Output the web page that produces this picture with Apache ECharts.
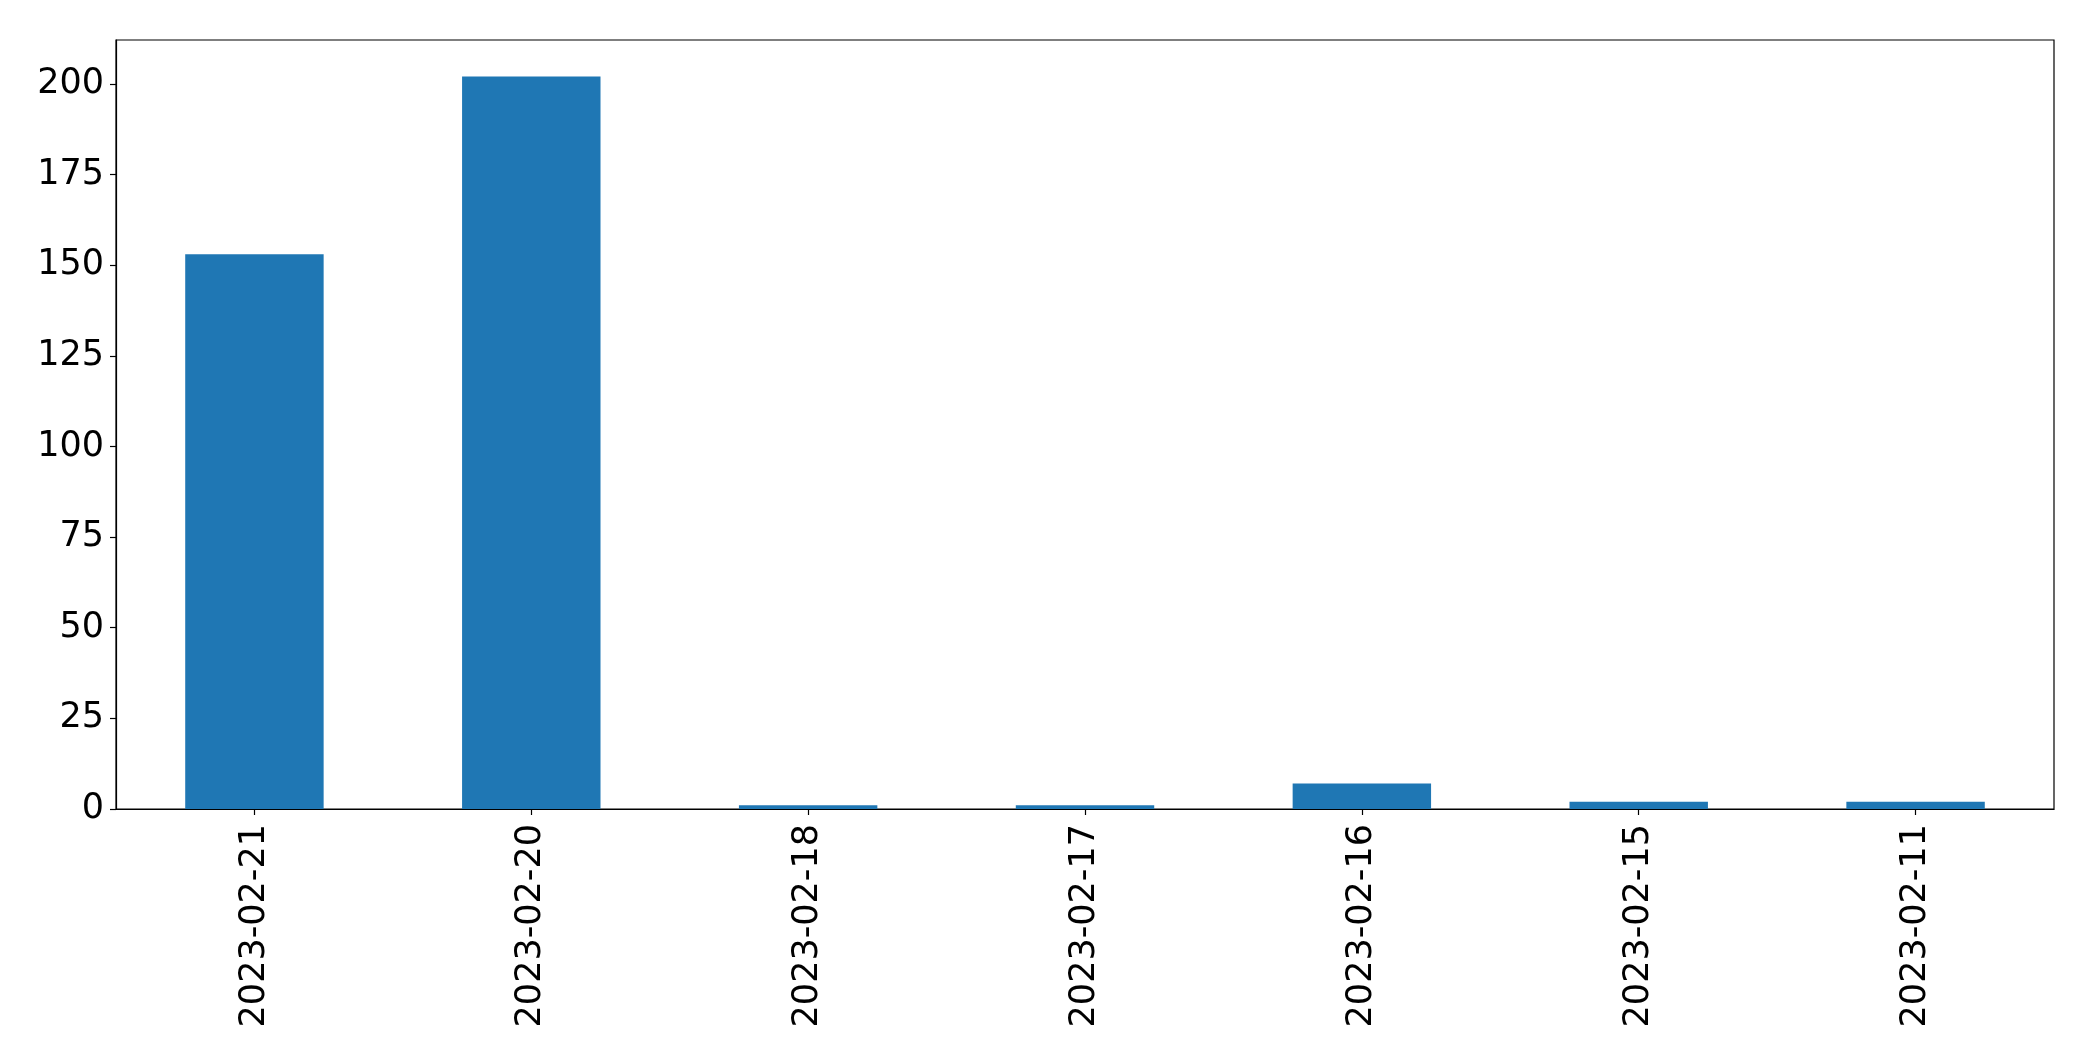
<!DOCTYPE html>
<html>
<head>
<meta charset="utf-8">
<script src="https://cdn.jsdelivr.net/npm/echarts@6/dist/echarts.min.js"></script>
<style>
html,body{margin:0;padding:0;background:#fff;}
#chart{width:2093px;height:1061px;}
</style>
</head>
<body>
<div id="chart"></div>
<script>
const categories = ['2023-02-21','2023-02-20','2023-02-18','2023-02-17','2023-02-16','2023-02-15','2023-02-11'];
const counts = [153, 202, 1, 1, 7, 2, 2];

const chart = echarts.init(document.getElementById('chart'), null, {renderer:'canvas'});
const font = 'DejaVu Sans';
chart.setOption({
  animation: false,
  backgroundColor: '#fff',
  grid: {left:116, right:39, top:40, bottom:252, show:true, borderColor:'#000', borderWidth:1.2, backgroundColor:'transparent'},
  xAxis: {
    type:'category',
    data: categories,
    boundaryGap: true,
    axisLine:{show:true, lineStyle:{color:'#000', width:1.2}},
    axisTick:{show:true, alignWithLabel:true, length:6, lineStyle:{color:'#000', width:1.2}},
    axisLabel:{rotate:90, margin:15, fontFamily:font, fontSize:35, color:'#000'},
    splitLine:{show:false}
  },
  yAxis: {
    type:'value',
    min:0, max:212.1, interval:25,
    axisLine:{show:true, lineStyle:{color:'#000', width:1.2}},
    axisTick:{show:true, length:6, lineStyle:{color:'#000', width:1.2}},
    axisLabel:{margin:12, fontFamily:font, fontSize:35, color:'#000', showMaxLabel:false},
    splitLine:{show:false}
  },
  series: [{
    type:'bar',
    data: counts,
    barWidth:'50%',
    itemStyle:{color:'#1f77b4'}
  }]
});
</script>
</body>
</html>
